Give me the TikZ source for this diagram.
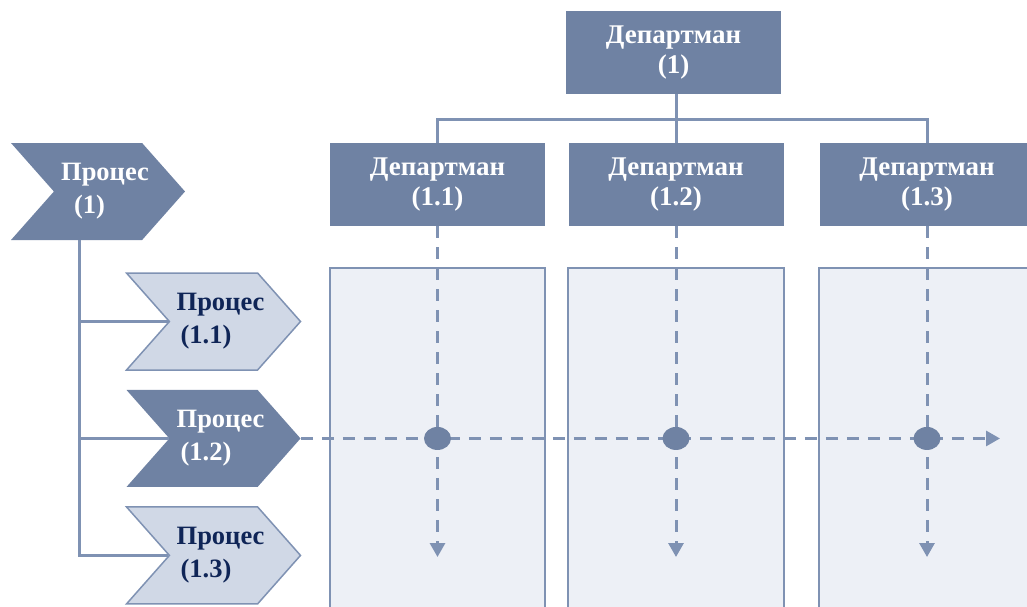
\documentclass[tikz,border=0pt]{standalone}
\usepackage{fontspec}
\setmainfont{Liberation Serif}
\usetikzlibrary{positioning,shapes.symbols,shapes.geometric,arrows.meta}
\definecolor{slate}{RGB}{111,130,163}
\definecolor{slateline}{RGB}{127,146,179}
\definecolor{paleblue}{RGB}{208,216,230}
\definecolor{columnfill}{RGB}{237,240,246}
\definecolor{navy}{RGB}{15,37,87}
\tikzset{
    dept/.style={
        rectangle, fill=slate, text=white,
        minimum width=215pt, minimum height=83pt, inner sep=0pt,
        font=\bfseries\fontsize{27}{30}\selectfont, align=center
    },
    proc/.style={
        signal, signal to=east, signal from=west, signal pointer angle=97,
        minimum width=174pt, minimum height=97pt, inner ysep=0pt, inner xsep=-7pt,
        font=\bfseries\fontsize{26.5}{33}\selectfont, align=left
    },
    proclight/.style={proc, fill=paleblue, draw=slateline, line width=1.5pt, text=navy},
    procdark/.style={proc, fill=slate, text=white},
    column/.style={fill=columnfill, draw=slateline, line width=2pt},
    link/.style={draw=slateline, line width=3pt},
    flow/.style={
        draw=slateline, line width=3pt, dash pattern=on 12pt off 9pt,
        -{Triangle[length=14pt,width=15pt]}
    },
    junction/.style={ellipse, fill=slate, minimum width=27pt, minimum height=23pt, inner sep=0pt}
}

\begin{document}
\begin{tikzpicture}[x=1pt, y=-1pt]
    \useasboundingbox (0,0) rectangle (1027,606);
    \clip (0,0) rectangle (1027,606);

    % columns under the departments
    \draw[column] (330,268) rectangle (545,630);
    \draw[column] (568,268) rectangle (784,630);
    \draw[column] (819,268) rectangle (1040,630);

    % departments
    \node[dept] (d1)  at (673.5,52.5)  {Департман\\(1)};
    \node[dept] (d11) at (437.5,184.5) {Департман\\(1.1)};
    \node[dept] (d12) at (676,184.5)   {Департман\\(1.2)};
    \node[dept] (d13) at (927,184.5)   {Департман\\(1.3)};

    \draw[link] (d12.north |- d1.south) -- (d12.north);
    \draw[link] (d11.north) -- ++(0,-23) -| (d13.north);

    % processes
    \node[procdark] (p1) at (98,191.5) {\hspace*{14pt}Процес\\\hspace*{27pt}(1)};
    \node[proclight] (p11) at (213.5,321.5) {\hspace*{14pt}Процес\\\hspace*{18pt}(1.1)};
    \node[procdark, below=19pt of p11] (p12) {\hspace*{14pt}Процес\\\hspace*{18pt}(1.2)};
    \node[proclight, below=19pt of p12] (p13) {\hspace*{14pt}Процес\\\hspace*{18pt}(1.3)};

    \coordinate (spine) at ([xshift=-19pt]p1.south);
    \draw[link] (spine) |- (p13.west);
    \draw[link] (spine |- p11.west) -- (p11.west);
    \draw[link] (spine |- p12.west) -- (p12.west);

    % flows
    \coordinate (flowend) at (p12.east -| 1000,0);
    \draw[flow] (p12.east) -- (flowend);
    \foreach \d in {d11,d12,d13} {
        \coordinate (\d-end) at (\d.south |- 0,557);
        \draw[flow] (\d.south) -- (\d-end);
        \node[junction] (\d-x) at (\d.south |- p12.east) {};
    }
\end{tikzpicture}
\end{document}
